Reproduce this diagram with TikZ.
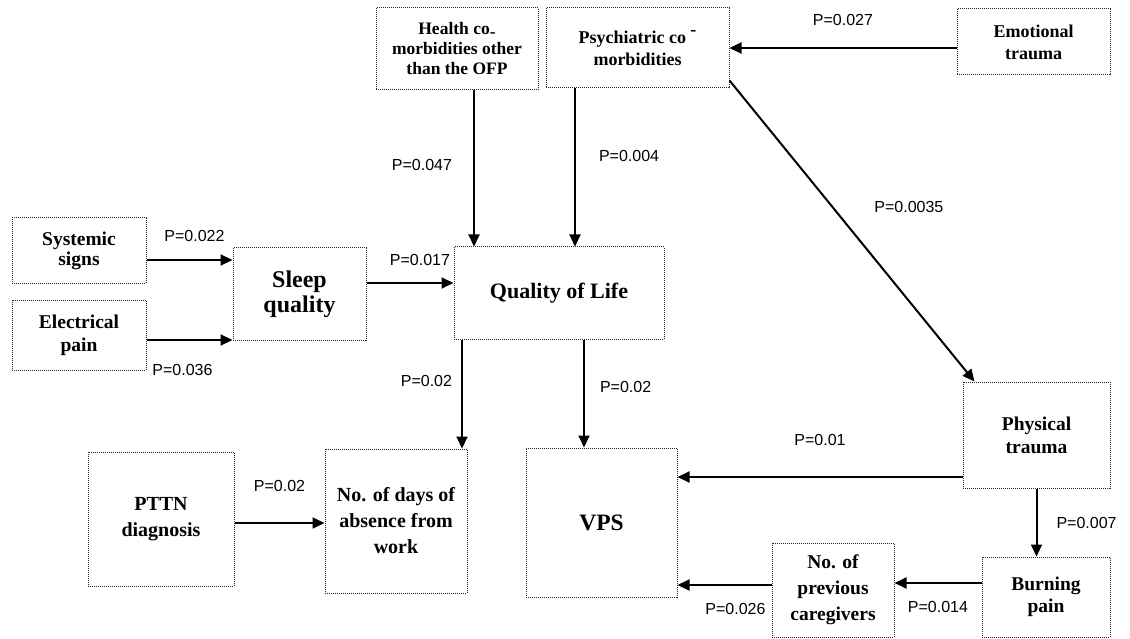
\documentclass[tikz,border=0pt]{standalone}
\usepackage{fontspec}
\setmainfont{Liberation Serif}
\newfontfamily\psans{Liberation Sans}
\usetikzlibrary{arrows.meta, positioning}

\begin{document}
\begin{tikzpicture}[
    x=1pt, y=-1pt,
    box/.style={rectangle, draw=black!85, densely dotted, line width=1pt, align=center, inner sep=2pt, font=\bfseries\fontsize{19.5}{23}\selectfont},
    arrow/.style={-{Triangle[length=12pt, width=11pt]}, line width=2pt},
    plabel/.style={font=\psans\fontsize{16}{18}\selectfont, inner sep=1pt}
]
    \useasboundingbox (0,0) rectangle (1130,639);

    \node[box, minimum width=162pt, minimum height=82pt, font=\bfseries\fontsize{17.5}{20}\selectfont] (health) at (457,49) {Health co\raisebox{-0.3ex}{-}\\morbidities other\\than the OFP};
    \node[box, minimum width=183pt, minimum height=80pt, font=\bfseries\fontsize{18}{22}\selectfont] (psych) at (637.5,48) {Psychiatric co \raisebox{0.9ex}{-}\\morbidities};
    \node[box, minimum width=153pt, minimum height=66pt, font=\bfseries\fontsize{18}{22}\selectfont] (emo) at (1033.5,42) {Emotional\\trauma};
    \node[box, minimum width=134pt, minimum height=65pt, font=\bfseries\fontsize{19.5}{20}\selectfont] (sys) at (79,250.5) {Systemic\\signs};
    \node[box, minimum width=134pt, minimum height=70pt] (elec) at (79,335) {Electrical\\pain};
    \node[box, minimum width=133pt, minimum height=92pt, font=\bfseries\fontsize{24}{25}\selectfont] (sleep) at (299.5,294) {Sleep\\quality};
    \node[box, minimum width=210pt, minimum height=92pt, font=\bfseries\fontsize{22}{24}\selectfont] (qol) at (559,293) {Quality of Life};
    \node[box, minimum width=147pt, minimum height=106pt] (phys) at (1036.5,435) {Physical\\trauma};
    \node[box, minimum width=128pt, minimum height=80pt, font=\bfseries\fontsize{19.5}{22}\selectfont] (burn) at (1046,597) {Burning\\pain};
    \node[box, minimum width=122pt, minimum height=94pt, font=\bfseries\fontsize{19.5}{26}\selectfont] (care) at (833,590) {No. of\\previous\\caregivers};
    \node[box, minimum width=151pt, minimum height=149pt, font=\bfseries\fontsize{23.5}{25}\selectfont] (vps) at (601.5,522.5) {VPS};
    \node[box, minimum width=142pt, minimum height=144pt, font=\bfseries\fontsize{20}{26}\selectfont] (days) at (396,521) {No. of days of\\absence from\\work};
    \node[box, minimum width=146pt, minimum height=134pt, font=\bfseries\fontsize{20}{26}\selectfont] (pttn) at (161,519) {PTTN\\diagnosis};

    \draw[arrow] ([yshift=-6pt]emo.west) -- node[above=20pt, plabel] {P=0.027} ([yshift=-6pt]emo.west -| psych.east);
    \draw[arrow] ([xshift=17pt]health.south) -- node[pos=0.48, left=20pt, plabel] {P=0.047} ([xshift=17pt]health.south |- qol.north);
    \draw[arrow] ([xshift=-62.5pt]psych.south) -- node[pos=0.43, right=22pt, plabel] {P=0.004} ([xshift=-62.5pt]psych.south |- qol.north);
    \draw[arrow] ([yshift=8pt]psych.south east) -- node[pos=0.42, right=40pt, plabel] {P=0.0035} ([xshift=12pt]phys.north west);
    \draw[arrow] ([yshift=-9.5pt]sys.east) -- node[above=16pt, xshift=5pt, plabel] {P=0.022} ([yshift=-9.5pt]sys.east -| sleep.west);
    \draw[arrow] ([yshift=-5pt]elec.east) -- node[below=22pt, xshift=-7pt, plabel] {P=0.036} ([yshift=-5pt]elec.east -| sleep.west);
    \draw[arrow] ([yshift=11pt]sleep.east) -- node[above=15pt, xshift=10pt, plabel] {P=0.017} ([yshift=11pt]sleep.east -| qol.west);
    \draw[arrow] ([xshift=-97pt]qol.south) -- node[pos=0.38, left=8pt, plabel] {P=0.02} ([xshift=-97pt]qol.south |- days.north);
    \draw[arrow] ([xshift=25pt]qol.south) -- node[pos=0.44, right=14pt, plabel] {P=0.02} ([xshift=25pt]qol.south |- vps.north);
    \draw[arrow] ([yshift=-42pt]phys.west) -- node[above=29pt, plabel] {P=0.01} ([yshift=-42pt]phys.west -| vps.east);
    \draw[arrow] (phys.south) -- node[right=18pt, plabel] {P=0.007} (phys.south |- burn.north);
    \draw[arrow] ([yshift=14pt]burn.west) -- node[below=16pt, plabel] {P=0.014} ([yshift=14pt]burn.west -| care.east);
    \draw[arrow] ([yshift=5pt]care.west) -- node[below=16pt, xshift=11pt, plabel] {P=0.026} ([yshift=5pt]care.west -| vps.east);
    \draw[arrow] ([yshift=-4pt]pttn.east) -- node[above=29pt, plabel] {P=0.02} ([yshift=-4pt]pttn.east -| days.west);
\end{tikzpicture}
\end{document}
